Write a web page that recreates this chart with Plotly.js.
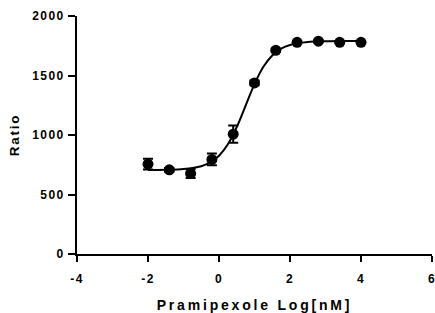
<!DOCTYPE html>
<html>
<head>
<meta charset="utf-8">
<script src="https://cdn.plot.ly/plotly-3.0.1.min.js"></script>
<style>
html,body{margin:0;padding:0;background:#fff;}
#chart{width:435px;height:313px;}
.xtick text,.ytick text{letter-spacing:1.4px;}
.g-xtitle text{letter-spacing:2.8px;}
.g-ytitle text{letter-spacing:1.8px;}
</style>
</head>
<body>
<div id="chart"></div>
<script>
const doseLog = [-2, -1.4, -0.8, -0.2, 0.4, 1.0, 1.6, 2.2, 2.8, 3.4, 4.0];
const ratio = [755, 707, 677, 795, 1007, 1438, 1712, 1779, 1788, 1779, 1779];
const ratioErr = [45, 15, 38, 50, 72, 20, 15, 10, 10, 10, 10];

// Fitted curve
const curveX = [-2, -1.5, -1, -0.5, -0.25, 0, 0.25, 0.5, 0.75, 1.0, 1.25, 1.5, 1.75, 2.0, 2.5, 3.0, 3.5, 4.0];
const curveY = [706, 708, 714, 738, 769, 826, 922, 1067, 1247, 1428, 1573, 1668, 1726, 1757, 1782, 1788, 1790, 1790];

const xTicks = [-4, -2, 0, 2, 4, 6];
const yTicks = [0, 500, 1000, 1500, 2000];

const fontFam = '"Liberation Sans", Arial, sans-serif';

const traces = [
  {
    x: curveX, y: curveY, type: 'scatter', mode: 'lines',
    line: {color: '#000', width: 2, shape: 'spline', smoothing: 1},
    hoverinfo: 'skip', showlegend: false
  },
  {
    x: doseLog, y: ratio, type: 'scatter', mode: 'markers',
    marker: {color: '#000', size: 11, symbol: 'circle'},
    error_y: {type: 'data', array: ratioErr, visible: true, color: '#000', thickness: 2, width: 5},
    showlegend: false
  }
];

const layout = {
  width: 435, height: 313,
  margin: {l: 77, r: 3, t: 16, b: 59},
  paper_bgcolor: '#fff', plot_bgcolor: '#fff',
  font: {family: fontFam, color: '#000'},
  xaxis: {
    range: [-4, 6], tickvals: xTicks, ticktext: xTicks.map(v => '<b>' + v + '</b>'),
    showline: true, linecolor: '#000', linewidth: 2,
    ticks: 'outside', ticklen: 6, tickwidth: 2, tickcolor: '#000',
    ticklabelstandoff: 7, ticklabeloverflow: 'allow',
    showgrid: false, zeroline: false,
    tickfont: {family: fontFam, size: 12, color: '#000'},
    title: {text: '<b>Pramipexole Log[nM]</b>', font: {family: fontFam, size: 14, color: '#000'}, standoff: 16}
  },
  yaxis: {
    range: [0, 2000], tickvals: yTicks, ticktext: yTicks.map(v => '<b>' + v + '</b>'),
    showline: true, linecolor: '#000', linewidth: 2,
    ticks: 'outside', ticklen: 7, tickwidth: 2, tickcolor: '#000',
    ticklabelstandoff: 1,
    showgrid: false, zeroline: false,
    tickfont: {family: fontFam, size: 12, color: '#000'},
    title: {text: '<b>Ratio</b>', font: {family: fontFam, size: 13.5, color: '#000'}, standoff: 10}
  }
};

Plotly.newPlot('chart', traces, layout, {displayModeBar: false, staticPlot: true});
</script>
</body>
</html>
